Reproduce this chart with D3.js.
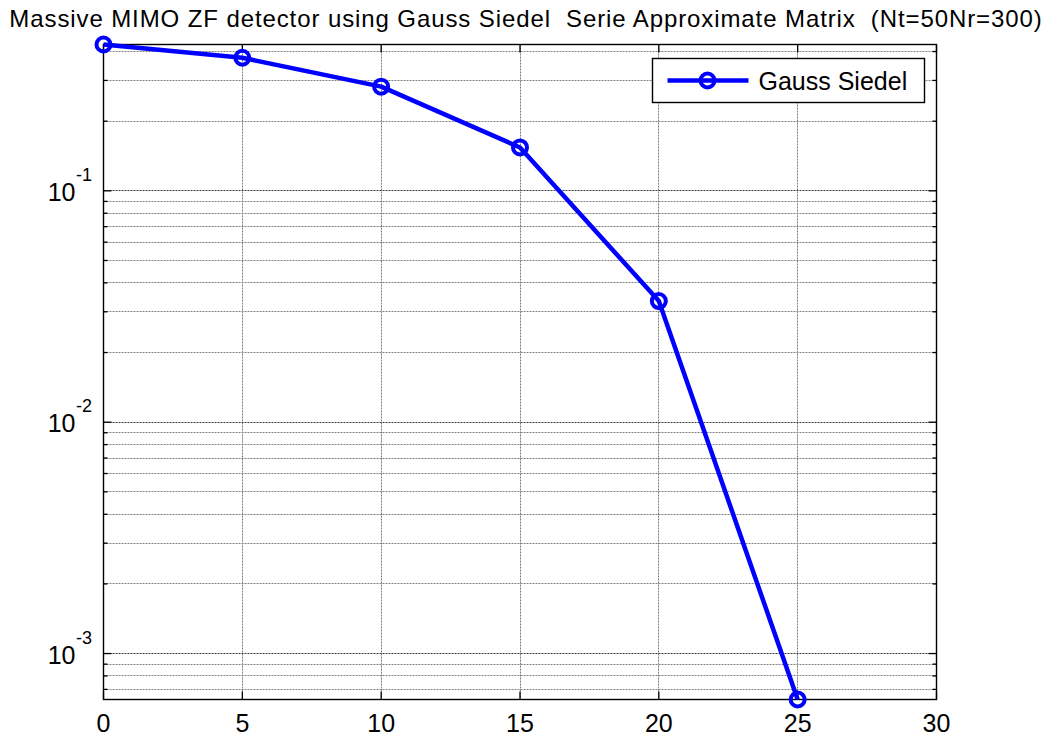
<!DOCTYPE html>
<html>
<head>
<meta charset="utf-8">
<script src="https://cdn.jsdelivr.net/npm/d3@7"></script>
<style>
  html, body { margin: 0; padding: 0; background: #fff; }
  svg { display: block; }
  text { font-family: "Liberation Sans", Arial, sans-serif; fill: #000; }
</style>
</head>
<body>
<svg id="chart" width="1045" height="737"></svg>
<script>
// SNR points (dB) and measured bit error rate
const snr = [0, 5, 10, 15, 20, 25];
const ber = [0.429, 0.376, 0.282, 0.154, 0.0334, 0.000633];

const xTicks = [0, 5, 10, 15, 20, 25, 30];
const yDecades = [-3, -2, -1];
const titleText = "Massive MIMO ZF detector using Gauss Siedel  Serie Approximate Matrix  (Nt=50Nr=300)";
const seriesName = "Gauss Siedel";

const W = 1045, H = 737;
const m = { left: 103.5, right: 108.5, top: 44.5, bottom: 37.5 };
const iw = W - m.left - m.right, ih = H - m.top - m.bottom;

const svg = d3.select("#chart");
const g = svg.append("g").attr("transform", `translate(${m.left},${m.top})`);

const x = d3.scaleLinear().domain([0, 30]).range([0, iw]);
const y = d3.scaleLog().domain(d3.extent(ber)).range([ih, 0]);

// minor log ticks (2..9 per decade) inside the y range
const [y0, y1] = y.domain();
const minorY = [];
for (let e = -4; e <= 0; e++) {
  for (let k = 2; k <= 9; k++) {
    const v = k * Math.pow(10, e);
    if (v >= y0 && v <= y1) minorY.push(v);
  }
}
const majorY = yDecades.map(e => Math.pow(10, e));
const snapY = v => Math.round(y(v)) + 0.5;
const snapX = v => Math.round(x(v)) + 0.5;

// grid
const grid = g.append("g").attr("stroke-width", 1);
grid.selectAll(".gx").data(xTicks.filter(t => t > 0 && t < 30)).join("line")
  .attr("x1", d => snapX(d) - 0.5).attr("x2", d => snapX(d) - 0.5).attr("y1", 0).attr("y2", ih)
  .attr("stroke", "#7a7a7a").attr("stroke-dasharray", "2,1");
grid.selectAll(".gym").data(minorY).join("line")
  .attr("x1", 0).attr("x2", iw).attr("y1", d => snapY(d) - 0.5).attr("y2", d => snapY(d) - 0.5)
  .attr("stroke", "#808080").attr("stroke-dasharray", "2,1");
grid.selectAll(".gyM").data(majorY).join("line")
  .attr("x1", 0).attr("x2", iw).attr("y1", d => snapY(d) - 0.5).attr("y2", d => snapY(d) - 0.5)
  .attr("stroke", "#3a3a3a").attr("stroke-dasharray", "2,1");

// axes box
g.append("rect").attr("x", 0).attr("y", 0).attr("width", iw).attr("height", ih)
  .attr("fill", "none").attr("stroke", "#000").attr("stroke-width", 1.4);

// inward ticks on all four sides
const tickG = g.append("g").attr("stroke", "#000").attr("stroke-width", 1.3);
xTicks.forEach(t => {
  tickG.append("line").attr("x1", x(t)).attr("x2", x(t)).attr("y1", ih).attr("y2", ih - 8);
  tickG.append("line").attr("x1", x(t)).attr("x2", x(t)).attr("y1", 0).attr("y2", 8);
});
majorY.forEach(v => {
  tickG.append("line").attr("x1", 0).attr("x2", 8).attr("y1", y(v)).attr("y2", y(v));
  tickG.append("line").attr("x1", iw).attr("x2", iw - 8).attr("y1", y(v)).attr("y2", y(v));
});
minorY.forEach(v => {
  tickG.append("line").attr("x1", 0).attr("x2", 4).attr("y1", y(v)).attr("y2", y(v));
  tickG.append("line").attr("x1", iw).attr("x2", iw - 4).attr("y1", y(v)).attr("y2", y(v));
});

// x tick labels
g.append("g").selectAll("text").data(xTicks).join("text")
  .attr("x", d => x(d)).attr("y", ih + 32)
  .attr("text-anchor", "middle").attr("font-size", 25)
  .text(d => d);

// y tick labels as 10^e
const yl = g.append("g");
yDecades.forEach(e => {
  const yy = y(Math.pow(10, e));
  yl.append("text").attr("x", -28).attr("y", yy + 10)
    .attr("text-anchor", "end").attr("font-size", 25).text("10");
  yl.append("text").attr("x", -27.5).attr("y", yy - 10)
    .attr("text-anchor", "start").attr("font-size", 18).text(String(e));
});

// series
const line = d3.line().x((d, i) => x(snr[i])).y(d => y(d));
g.append("path").datum(ber).attr("d", line)
  .attr("fill", "none").attr("stroke", "#0000ff").attr("stroke-width", 4.5)
  .attr("stroke-linejoin", "round");
g.append("g").selectAll("circle").data(ber).join("circle")
  .attr("cx", (d, i) => x(snr[i])).attr("cy", d => y(d)).attr("r", 7)
  .attr("fill", "none").attr("stroke", "#0000ff").attr("stroke-width", 4);

// title
svg.append("text").attr("x", m.left + iw / 2 + 6).attr("y", 27)
  .attr("text-anchor", "middle").attr("font-size", 24)
  .attr("letter-spacing", 0.9)
  .style("white-space", "pre").text(titleText);

// legend
const lg = svg.append("g").attr("transform", "translate(652.5,58.5)");
lg.append("rect").attr("width", 272).attr("height", 44)
  .attr("fill", "#fff").attr("stroke", "#000").attr("stroke-width", 1.4);
lg.append("line").attr("x1", 15).attr("x2", 96).attr("y1", 22).attr("y2", 22)
  .attr("stroke", "#0000ff").attr("stroke-width", 4.5);
lg.append("circle").attr("cx", 55).attr("cy", 22).attr("r", 7)
  .attr("fill", "none").attr("stroke", "#0000ff").attr("stroke-width", 4);
lg.append("text").attr("x", 106).attr("y", 31).attr("font-size", 25).text(seriesName);
</script>
</body>
</html>
